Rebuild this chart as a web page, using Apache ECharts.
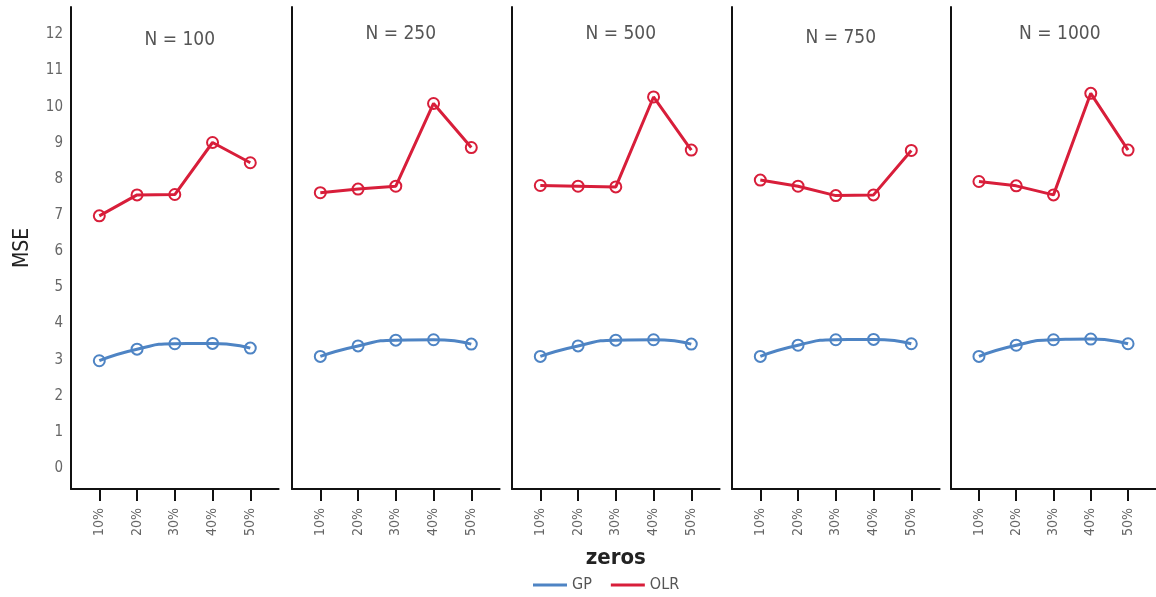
<!DOCTYPE html>
<html>
<head>
<meta charset="utf-8">
<script src="https://cdn.jsdelivr.net/npm/echarts@6/dist/echarts.min.js"></script>
<style>
html,body{margin:0;padding:0;background:#fff;}
#chart{width:1156px;height:597px;}
</style>
</head>
<body>
<div id="chart"></div>
<script>
// ---- data ----
var categories = ['10%', '20%', '30%', '40%', '50%'];
var sampleSizes = [100, 250, 500, 750, 1000];
var yTicks = [0, 1, 2, 3, 4, 5, 6, 7, 8, 9, 10, 11, 12];

var gp100  = [2.97, 3.29, 3.44, 3.45, 3.32];
var gp250  = [3.09, 3.38, 3.54, 3.55, 3.43];
var gp500  = [3.09, 3.38, 3.54, 3.55, 3.43];
var gp750  = [3.09, 3.40, 3.55, 3.56, 3.44];
var gp1000 = [3.09, 3.40, 3.55, 3.57, 3.44];

var olr100  = [6.98, 7.56, 7.57, 9.01, 8.45];
var olr250  = [7.62, 7.72, 7.80, 10.09, 8.87];
var olr500  = [7.82, 7.80, 7.78, 10.27, 8.80];
var olr750  = [7.97, 7.80, 7.54, 7.56, 8.79];
var olr1000 = [7.93, 7.81, 7.56, 10.37, 8.80];

var gpSeries = [gp100, gp250, gp500, gp750, gp1000];
var olrSeries = [olr100, olr250, olr500, olr750, olr1000];

// ---- layout / style ----
var FONT = '"Liberation Sans Narrow", "DejaVu Sans Condensed", "Noto Sans", sans-serif';
var BLUE = '#4E84C4';
var RED = '#D81E3A';
var panelLefts = [71, 292, 512, 732, 951];
var panelWidth = 207.6;
var titleTops = [26, 20, 20, 24, 20];

var grids = [], xAxes = [], yAxes = [], series = [], titles = [];

function toPoints(vals) {
  return vals.map(function (v, i) { return [i, v]; });
}

for (var p = 0; p < sampleSizes.length; p++) {
  grids.push({ left: panelLefts[p], top: 7, width: panelWidth, height: 482, containLabel: false });
  xAxes.push({
    type: 'value', gridIndex: p, min: -0.75, max: 4.75,
    splitLine: { show: false },
    axisLine: { show: true, onZero: false, lineStyle: { color: '#111', width: 2 } },
    axisTick: { show: true, customValues: [0, 1, 2, 3, 4], length: 12, lineStyle: { color: '#111', width: 2 } },
    axisLabel: {
      customValues: [0, 1, 2, 3, 4], rotate: 90, margin: 19,
      color: '#666', fontFamily: FONT, fontSize: 14,
      formatter: function (v) { return categories[Math.round(v)]; }
    },
    name: p === 2 ? 'zeros' : '',
    nameLocation: 'middle', nameGap: 58,
    nameTextStyle: { fontFamily: FONT, fontSize: 22, fontWeight: 'bold', color: '#222' }
  });
  yAxes.push({
    type: 'value', gridIndex: p, min: -0.58, max: 12.76,
    splitLine: { show: false },
    axisLine: { show: true, onZero: false, lineStyle: { color: '#111', width: 2 } },
    axisTick: { show: false },
    axisLabel: {
      show: p === 0, customValues: yTicks, margin: 8,
      color: '#666', fontFamily: FONT, fontSize: 15
    },
    name: p === 0 ? 'MSE' : '',
    nameLocation: 'middle', nameGap: 38, nameRotate: 90,
    nameTextStyle: { fontFamily: FONT, fontSize: 21, color: '#222' }
  });
  titles.push({
    text: 'N = ' + sampleSizes[p],
    left: panelLefts[p] + panelWidth / 2, top: titleTops[p], textAlign: 'center',
    textStyle: { fontFamily: FONT, fontSize: 19, fontWeight: 'normal', color: '#555' }
  });
  series.push({
    name: 'GP', type: 'line', xAxisIndex: p, yAxisIndex: p,
    data: toPoints(gpSeries[p]), smooth: 0.6,
    symbol: 'circle', symbolSize: 11,
    lineStyle: { color: BLUE, width: 3 },
    itemStyle: { color: 'rgba(255,255,255,0)', borderColor: BLUE, borderWidth: 2 },
    emphasis: { disabled: true }, animation: false
  });
  series.push({
    name: 'OLR', type: 'line', xAxisIndex: p, yAxisIndex: p,
    data: toPoints(olrSeries[p]),
    symbol: 'circle', symbolSize: 11,
    lineStyle: { color: RED, width: 3 },
    itemStyle: { color: 'rgba(255,255,255,0)', borderColor: RED, borderWidth: 2 },
    emphasis: { disabled: true }, animation: false
  });
}

var chart = echarts.init(document.getElementById('chart'), null, { renderer: 'canvas' });
chart.setOption({
  animation: false,
  backgroundColor: '#fff',
  title: titles,
  grid: grids,
  xAxis: xAxes,
  yAxis: yAxes,
  legend: {
    left: 533, top: 577, padding: 0, itemGap: 19,
    itemWidth: 34, itemHeight: 3,
    icon: 'rect',
    textStyle: { fontFamily: FONT, fontSize: 16, color: '#555' },
    data: [
      { name: 'GP', itemStyle: { color: BLUE, borderWidth: 0 } },
      { name: 'OLR', itemStyle: { color: RED, borderWidth: 0 } }
    ],
    selectedMode: false
  },
  series: series
});
</script>
</body>
</html>
